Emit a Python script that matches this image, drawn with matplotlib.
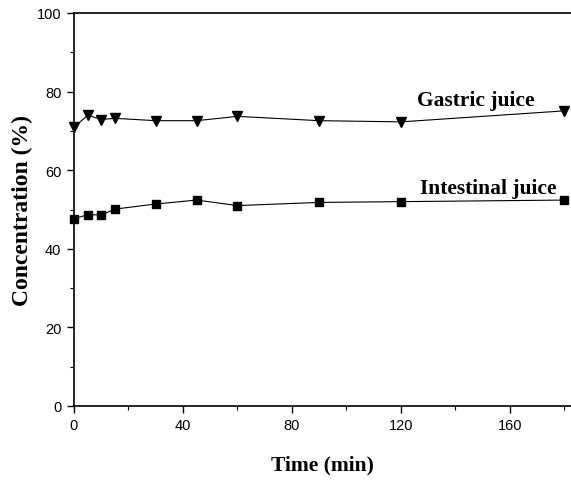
import matplotlib
matplotlib.use("Agg")
import matplotlib.pyplot as plt
from matplotlib.ticker import MultipleLocator

time = [0, 5, 10, 15, 30, 45, 60, 90, 120, 180]
gastric = [70.9, 74.0, 72.9, 73.2, 72.6, 72.6, 73.7, 72.6, 72.3, 75.1]
intestinal = [47.6, 48.7, 48.6, 50.1, 51.4, 52.4, 51.0, 51.8, 52.0, 52.4]
xticks = [0, 40, 80, 120, 160]
yticks = [0, 20, 40, 60, 80, 100]

fig = plt.figure(figsize=(5.71, 4.81), dpi=100)
ax = fig.add_axes([74/571, 74/481, 1 - 74/571, 393/481])

ax.plot(time, gastric, color="black", lw=0.8, marker="v", ms=7.5, clip_on=False)
ax.plot(time, intestinal, color="black", lw=0.8, marker="s", ms=5.5, clip_on=False)

ax.set_xlim(0, 182.4)
ax.set_ylim(0, 100)
ax.set_xticks(xticks)
ax.set_yticks(yticks)
ax.xaxis.set_minor_locator(MultipleLocator(20))
ax.yaxis.set_minor_locator(MultipleLocator(10))
ax.tick_params(which="major", direction="out", length=5, width=1, labelsize=10.5, pad=4)
ax.tick_params(which="minor", direction="out", length=3, width=0.8)
for lab in ax.get_xticklabels() + ax.get_yticklabels():
    lab.set_fontfamily("Liberation Sans")
ax.spines["right"].set_visible(False)
for s in ["left", "bottom", "top"]:
    ax.spines[s].set_linewidth(1.2)

serif = "Liberation Serif"
ax.set_xlabel("Time (min)", fontfamily=serif, fontweight="bold", fontsize=15.5, labelpad=16)
ax.set_ylabel("Concentration (%)", fontfamily=serif, fontweight="bold", fontsize=17,
              va="center")
ax.yaxis.set_label_coords(-0.104, 0.5)

ax.text(147.5, 77.9, "Gastric juice", fontfamily=serif, fontweight="bold", fontsize=15.5,
        ha="center", va="center")
ax.text(152, 55.4, "Intestinal juice", fontfamily=serif, fontweight="bold", fontsize=15.5,
        ha="center", va="center")

fig.savefig("out.png", dpi=100)
